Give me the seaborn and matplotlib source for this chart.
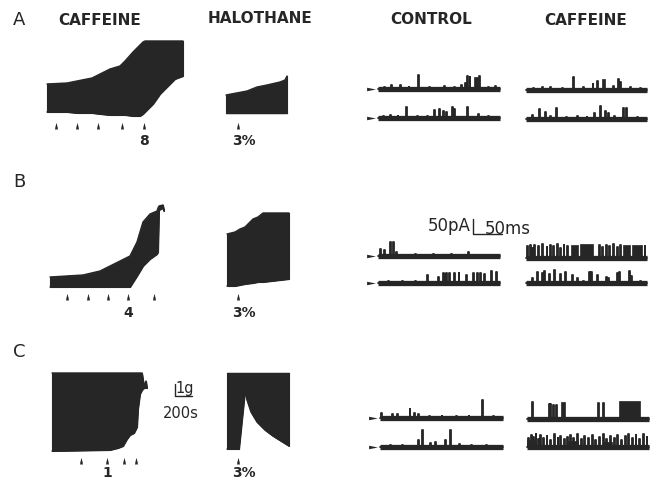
import matplotlib
matplotlib.use("Agg")
import matplotlib.pyplot as plt
import seaborn as sns

sns.set_theme(style="white")
plt.rcParams['font.family'] = ['DejaVu Sans']

W, H = 659, 485
INK = "#262626"

# ---- contracture recordings (time in chart px from trace start, tension above trace floor) ----
a_caf_t = [0, 20, 30, 45, 53, 63, 73, 78, 86, 93, 96, 98, 106, 113, 120, 128, 136]
a_caf_top = [32, 33, 35, 38, 42, 47, 50, 55, 64, 71, 74, 75, 75, 75, 75, 75, 75]
a_caf_bot = [4, 4, 3, 3, 2, 1, 1, 1, 0, 0, 2, 4, 12, 22, 29, 37, 40]
a_caf_stim = [9, 30, 51, 75, 97]

a_hal_t = [0, 21, 31, 41, 54, 59, 61]
a_hal_top = [19, 23, 27, 29, 32, 34, 38]
a_hal_bot = [1, 1, 1, 1, 1, 1, 1]
a_hal_stim = [12]

b_caf_t = [0, 33, 50, 60, 70, 80, 87, 93, 100, 107, 108, 109, 113, 114]
b_caf_top = [11, 13, 17, 22, 27, 32, 46, 66, 74, 77, 80, 82, 83, 77]
b_caf_bot = [1, 1, 1, 1, 1, 1, 12, 22, 29, 34, 36, 78, 80, 77]
b_caf_stim = [17, 38, 58, 78, 104]

b_hal_t = [0, 8, 13, 18, 26, 31, 36, 62]
b_hal_top = [54, 56, 59, 61, 69, 71, 75, 75]
b_hal_bot = [2, 2, 3, 4, 5, 6, 6, 9]
b_hal_stim = [11]

c_caf_t = [0, 58, 66, 71, 75, 78, 82, 85, 86, 88, 90, 92, 94, 95]
c_caf_top = [79, 79, 79, 79, 79, 79, 79, 79, 79, 79, 79, 66, 71, 64]
c_caf_bot = [1, 2, 4, 6, 13, 17, 19, 25, 43, 58, 62, 64, 64, 64]
c_caf_stim = [29, 55, 72, 84]

c_hal_t = [0, 12, 18, 20, 24, 30, 38, 46, 54, 62]
c_hal_top = [79, 79, 79, 79, 79, 79, 79, 79, 79, 79]
c_hal_bot = [3, 3, 61, 52, 40, 30, 22, 16, 11, 6]
c_hal_stim = [11]

# ---- single channel records: openings (fraction of sweep, amplitude) and bursts (start, end, amplitude) ----
a_ctrl1 = [(0.05, 2), (0.11, 4), (0.18, 4), (0.25, 2), (0.33, 14), (0.42, 2), (0.54, 3), (0.62, 2),
           (0.68, 4), (0.71, 6), (0.73, 13), (0.75, 12), (0.83, 13), (0.90, 2), (0.96, 3)]
a_ctrl1_burst = [(0.79, 0.82, 12)]
a_ctrl2 = [(0.04, 2), (0.10, 3), (0.16, 2), (0.23, 11), (0.32, 2), (0.40, 2), (0.46, 8), (0.50, 9),
           (0.53, 7), (0.56, 6), (0.61, 11), (0.62, 9), (0.73, 11), (0.82, 4), (0.90, 2)]
a_caf1 = [(0.06, 2), (0.13, 3), (0.20, 3), (0.30, 2), (0.39, 13), (0.47, 3), (0.55, 6), (0.59, 9),
          (0.72, 4), (0.76, 11), (0.78, 8), (0.86, 3), (0.94, 2)]
a_caf1_burst = [(0.63, 0.65, 11)]
a_caf2 = [(0.05, 4), (0.11, 10), (0.16, 7), (0.20, 3), (0.25, 11), (0.33, 2), (0.42, 3), (0.50, 2),
          (0.56, 6), (0.61, 13), (0.65, 8), (0.68, 6), (0.73, 3), (0.80, 11), (0.83, 11), (0.92, 2)]

b_ctrl1 = [(0.02, 7), (0.05, 6), (0.10, 14), (0.12, 14), (0.15, 4), (0.30, 2), (0.45, 2), (0.60, 2), (0.74, 4)]
b_ctrl2 = [(0.08, 2), (0.20, 2), (0.30, 2), (0.40, 8), (0.49, 6), (0.53, 10), (0.55, 9), (0.56, 10),
           (0.58, 10), (0.62, 10), (0.66, 10), (0.72, 8), (0.78, 10), (0.81, 10), (0.84, 10), (0.87, 9),
           (0.93, 12), (0.97, 11)]
b_caf1 = [(0.01, 12), (0.03, 13), (0.05, 10), (0.07, 13), (0.10, 12), (0.13, 14), (0.17, 11), (0.20, 13),
          (0.22, 12), (0.26, 14), (0.28, 10), (0.31, 13), (0.34, 12), (0.60, 13), (0.63, 11), (0.66, 13),
          (0.69, 12), (0.72, 14), (0.75, 11), (0.78, 13), (0.98, 12)]
b_caf1_burst = [(0.37, 0.43, 13), (0.45, 0.55, 14), (0.80, 0.86, 13), (0.88, 0.96, 13)]
b_caf2 = [(0.05, 5), (0.09, 11), (0.13, 10), (0.15, 12), (0.19, 9), (0.23, 13), (0.28, 9), (0.32, 11),
          (0.38, 8), (0.42, 5), (0.47, 2), (0.52, 11), (0.54, 11), (0.59, 8), (0.66, 6), (0.68, 5),
          (0.75, 10), (0.77, 11), (0.85, 12), (0.87, 7), (0.94, 2)]

c_ctrl1 = [(0.01, 5), (0.10, 4), (0.14, 4), (0.24, 9), (0.28, 5), (0.31, 4), (0.40, 2), (0.50, 2),
           (0.62, 2), (0.72, 2), (0.83, 18), (0.92, 2)]
c_ctrl2 = [(0.08, 2), (0.18, 2), (0.31, 7), (0.34, 17), (0.41, 4), (0.45, 5), (0.53, 7), (0.57, 17),
           (0.64, 3), (0.74, 2), (0.86, 2)]
c_caf1 = [(0.04, 17), (0.18, 15), (0.19, 15), (0.21, 14), (0.24, 14), (0.58, 16), (0.62, 16)]
c_caf1_burst = [(0.28, 0.31, 17), (0.75, 0.93, 18)]
c_caf2 = [(0.01, 9), (0.03, 12), (0.05, 10), (0.07, 13), (0.09, 8), (0.11, 12), (0.13, 9), (0.16, 11),
          (0.19, 7), (0.22, 13), (0.25, 9), (0.27, 11), (0.30, 8), (0.33, 10), (0.35, 12), (0.38, 9),
          (0.41, 13), (0.44, 8), (0.47, 11), (0.50, 9), (0.53, 12), (0.56, 7), (0.59, 10), (0.62, 13),
          (0.65, 8), (0.68, 11), (0.71, 9), (0.74, 12), (0.77, 7), (0.80, 11), (0.83, 13), (0.86, 9),
          (0.89, 12), (0.92, 8), (0.95, 13), (0.98, 10)]
c_caf2_burst = [(0.00, 0.06, 7), (0.34, 0.42, 6), (0.62, 0.70, 5)]

fig = plt.figure(figsize=(W / 100, H / 100), dpi=100)


def px_axes(x0, y_ref, x_lo, x_hi, y_lo, y_hi):
    # axes whose data units are chart pixels, anchored at (x0, y_ref)
    ax = fig.add_axes([(x0 + x_lo) / W, (H - y_ref + y_lo) / H, (x_hi - x_lo) / W, (y_hi - y_lo) / H])
    ax.set_xlim(x_lo, x_hi)
    ax.set_ylim(y_lo, y_hi)
    ax.set_axis_off()
    return ax


def fig_text(x, y, s, **kw):
    kw.setdefault("ha", "center")
    kw.setdefault("va", "center")
    kw.setdefault("color", INK)
    fig.text(x / W, 1 - y / H, s, **kw)


stim_marker = [(-0.45, -1), (0, 1), (0.45, -1)]
arrow_marker = [(-1, -0.4), (1, 0), (-1, 0.4)]


def contracture(x0, y_ref, t, top, bot, stim, stim_y, label, label_t, label_y):
    ax = px_axes(x0, y_ref, -4, max(t) + 4, -32, max(top) + 4)
    ax.fill_between(t, bot, top, color=INK, lw=0.8, edgecolor=INK)
    sns.lineplot(x=t, y=top, estimator=None, sort=False, color=INK, lw=1.0, ax=ax)
    sns.lineplot(x=t, y=bot, estimator=None, sort=False, color=INK, lw=1.0, ax=ax)
    sns.scatterplot(x=stim, y=[stim_y] * len(stim), marker=stim_marker, s=18, color=INK,
                    edgecolor=INK, linewidth=0.3, ax=ax)
    ax.text(label_t, label_y, label, ha="center", va="center", fontsize=10, weight="bold", color=INK)


def channel(x0, y_ref, length, events, bursts=(), arrow=False):
    ax = px_axes(x0, y_ref, -14 if arrow else -2, length + 2, -6, 22)
    xs, ys = [0], [0]
    for pos, amp in sorted(events):
        p = pos * length
        xs += [p, p, p + 0.9, p + 0.9]
        ys += [0, amp, amp, 0]
    xs.append(length)
    ys.append(0)
    ax.plot([0, length], [0, 0], color=INK, lw=3.8, solid_capstyle="butt")
    sns.lineplot(x=xs, y=ys, estimator=None, sort=False, color=INK, lw=1.3, ax=ax)
    for s, e, amp in bursts:
        ax.fill_between([s * length, e * length], 0, amp, color=INK, lw=0.5)
    if arrow:
        ax.scatter([-7], [0], marker=arrow_marker, s=40, color=INK, linewidths=0)


# row A
contracture(47, 117, a_caf_t, a_caf_top, a_caf_bot, a_caf_stim, -10, "8", 97, -24)
contracture(226, 115, a_hal_t, a_hal_top, a_hal_bot, a_hal_stim, -12, "3%", 18, -26)
channel(378, 90, 122, a_ctrl1, a_ctrl1_burst, arrow=True)
channel(378, 119, 122, a_ctrl2, arrow=True)
channel(526, 91, 121, a_caf1, a_caf1_burst)
channel(526, 120, 121, a_caf2)

# row B
contracture(50, 289, b_caf_t, b_caf_top, b_caf_bot, b_caf_stim, -9, "4", 78, -24)
contracture(227, 289, b_hal_t, b_hal_top, b_hal_bot, b_hal_stim, -9, "3%", 17, -24)
channel(378, 257, 122, b_ctrl1, arrow=True)
channel(378, 284, 122, b_ctrl2, arrow=True)
channel(526, 259, 121, b_caf1, b_caf1_burst)
channel(526, 284, 121, b_caf2)

# row C
contracture(52, 453, c_caf_t, c_caf_top, c_caf_bot, c_caf_stim, -9, "1", 55, -20)
contracture(227, 453, c_hal_t, c_hal_top, c_hal_bot, c_hal_stim, -9, "3%", 17, -20)
channel(380, 419, 123, c_ctrl1, arrow=True)
channel(380, 448, 123, c_ctrl2, arrow=True)
channel(527, 420, 122, c_caf1, c_caf1_burst)
channel(527, 448, 122, c_caf2, c_caf2_burst)

# scale bars: 50 pA / 50 ms and 1 g / 200 s
sb = px_axes(473, 235, -2, 32, -2, 18)
sb.plot([0, 0, 29], [15, 0, 0], color=INK, lw=1.0)
sb2 = px_axes(175, 397, -2, 20, -2, 15)
sb2.plot([0, 0, 17], [12, 0, 0], color=INK, lw=1.0)

fig_text(449, 226, "50pA", fontsize=12)
fig_text(508, 229, "50ms", fontsize=12)
fig_text(185, 389, "1g", fontsize=10.5)
fig_text(181, 414, "200s", fontsize=10.5)

# headings and panel letters
fig_text(100, 20.5, "CAFFEINE", fontsize=11, weight="bold")
fig_text(260, 18.5, "HALOTHANE", fontsize=11, weight="bold")
fig_text(431, 19, "CONTROL", fontsize=11, weight="bold")
fig_text(586, 20.5, "CAFFEINE", fontsize=11, weight="bold")
fig_text(19, 20, "A", fontsize=13)
fig_text(19, 182, "B", fontsize=13)
fig_text(19, 352, "C", fontsize=13)

fig.savefig("out.png", dpi=100, facecolor="white")
